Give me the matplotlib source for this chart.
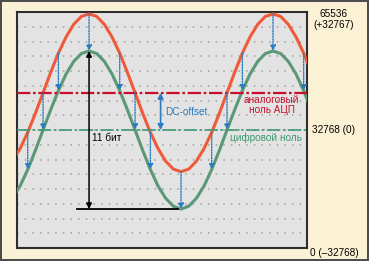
import numpy as np
import matplotlib
matplotlib.use("Agg")
import matplotlib.pyplot as plt
import matplotlib.transforms as mtransforms

plt.rcParams['font.family'] = ['Liberation Sans', 'DejaVu Sans']

# phase of the signal (degrees) and ADC codes
phase = [-150, -135, -120, -105, -90, -75, -60, -45, -30, -15,
         0, 15, 30, 45, 60, 75, 90, 105, 120, 135,
         150, 165, 180, 195, 210, 225, 240, 255, 270, 285,
         300, 315, 330, 345, 360, 375, 390, 405, 420, 435]
analog = [24100, 27600, 32100, 37400, 43100, 48800, 54100, 58600, 62100, 64300,
          65000, 64300, 62100, 58600, 54100, 48800, 43100, 37400, 32100, 27600,
          24100, 21900, 21200, 21900, 24100, 27600, 32100, 37400, 43100, 48800,
          54100, 58600, 62100, 64300, 65000, 64300, 62100, 58600, 54100, 48800]
digital = [13800, 17200, 21800, 27100, 32800, 38400, 43700, 48300, 51800, 54000,
           54700, 54000, 51800, 48300, 43700, 38400, 32800, 27100, 21800, 17200,
           13800, 11600, 10800, 11600, 13800, 17200, 21800, 27100, 32800, 38400,
           43700, 48300, 51800, 54000, 54700, 54000, 51800, 48300, 43700, 38400]

analog_zero = 43100
digital_zero = 32768
full_scale = 65536
grid_levels = [4096 * k for k in range(1, 16)]

shift_phase = [-120, -90, -60, 0, 60, 90, 120, 180, 240, 270, 300, 360, 420]

right_labels = ["65536\n(+32767)", "32768 (0)", "0 (\u201332768)"]
right_label_y = [63500, 32768, -1400]

RED = '#ef5a3a'
GREEN = '#5a9878'
CRIMSON = '#c8102e'
DGREEN = '#3f9873'
BLUE = '#2a7cc0'

fig = plt.figure(figsize=(3.69, 2.61), dpi=100)
fig.patch.set_facecolor('#fbf2d6')
fig.patch.set_edgecolor('#4d4d4d')
fig.patch.set_linewidth(1.6)

ax = fig.add_axes([17/369, 1 - 248/261, 290/369, 236/261])
ax.set_facecolor('#e3e3e3')
ax.set_xlim(-141, 426.5)
ax.set_ylim(0, full_scale)
ax.set_xticks([])
ax.set_yticks([])
for s in ax.spines.values():
    s.set_linewidth(1.5)
    s.set_color('#2e2e2e')

for g in grid_levels:
    ax.axhline(g, color='#a0a0a0', lw=1.1, ls=(0, (1, 4)), zorder=1)

ax.plot(phase, digital, color=GREEN, lw=2.2, zorder=3, solid_capstyle='round')
ax.plot(phase, analog, color=RED, lw=2.2, zorder=3, solid_capstyle='round')

ax.axhline(analog_zero, color=CRIMSON, lw=1.6, ls=(0, (6, 1.2, 1.2, 1.2)), zorder=4)
ax.axhline(digital_zero, color=DGREEN, lw=1.2, ls=(0, (8, 1.5, 1.5, 1.5)), zorder=4)

# dotted arrows red -> green
a_map = dict(zip(phase, analog))
d_map = dict(zip(phase, digital))
for p in shift_phase:
    ax.annotate('', xy=(p, d_map[p]), xytext=(p, a_map[p]),
                arrowprops=dict(arrowstyle='-|>', color=BLUE, lw=1.0,
                                linestyle=(0, (1, 1)), mutation_scale=8,
                                shrinkA=0, shrinkB=0), zorder=5)

# 11 bit span
ax.plot([-23.5, 174], [min(digital), min(digital)], color='black', lw=1.3, zorder=5)
ax.annotate('', xy=(0, max(digital)), xytext=(0, min(digital)),
            arrowprops=dict(arrowstyle='<|-|>', color='black', lw=1.1,
                            mutation_scale=8, shrinkA=0, shrinkB=0), zorder=6)
ax.text(6, 30500, '11 бит', fontsize=7.2, color='black', ha='left', va='center')

# DC offset
ax.annotate('', xy=(140, analog_zero), xytext=(140, digital_zero),
            arrowprops=dict(arrowstyle='<|-|>', color=BLUE, lw=1.2,
                            mutation_scale=8, shrinkA=0, shrinkB=0), zorder=6)
ax.text(148.7, 37850, 'DC-offset', fontsize=7.2, color=BLUE, ha='left', va='center')

ax.text(357.5, 39700, 'аналоговый\nноль АЦП', fontsize=7.2, color=CRIMSON,
        ha='center', va='center', linespacing=1.05)
ax.text(346, 30600, 'цифровой ноль', fontsize=7.2, color=DGREEN,
        ha='center', va='center')

trans = mtransforms.blended_transform_factory(ax.transAxes, ax.transData)
for lab, yv in zip(right_labels, right_label_y):
    ax.text(1.093, yv, lab, transform=trans, fontsize=7.2, color='black',
            ha='center', va='center', linespacing=1.05, clip_on=False)

fig.savefig('out.png', dpi=100, facecolor=fig.get_facecolor(),
            edgecolor=fig.get_edgecolor())
